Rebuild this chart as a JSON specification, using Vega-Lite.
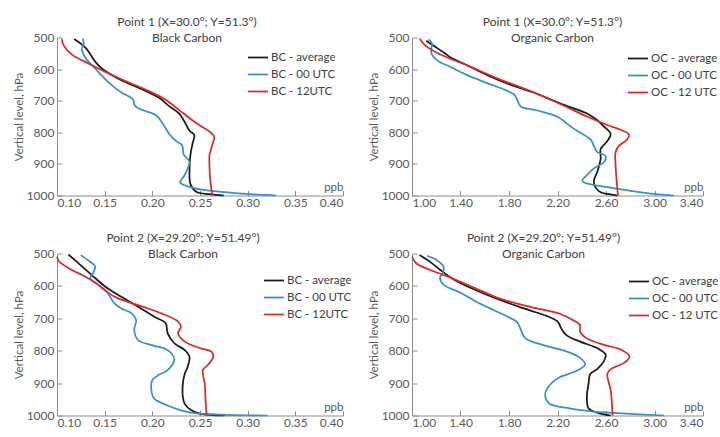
{
  "$schema": "https://vega.github.io/schema/vega-lite/v6.json",
  "background": "white",
  "padding": {"left": 13, "top": 15.5, "right": 0, "bottom": 0},
  "config": {
    "font": "Lato",
    "view": {"stroke": null},
    "axis": {"grid": false, "labelFont": "Lato", "labelFontSize": 12, "labelColor": "#595959", "titleFont": "Lato", "titleFontSize": 11.5, "titleFontWeight": "normal", "titleColor": "#595959", "domainColor": "#8c8c8c", "tickColor": "#8c8c8c", "tickSize": -5, "labelPadding": 8},
    "axisX": {"labelPadding": 7, "titleAlign": "right", "titleBaseline": "bottom", "titleY": -3, "titleX": 286},
    "axisY": {"titlePadding": 2, "format": "d"},
    "legend": {"symbolType": "stroke", "symbolSize": 400, "symbolStrokeWidth": 2, "labelFont": "Lato", "labelFontSize": 11.5, "labelColor": "#404040", "rowPadding": -4, "labelOffset": 2, "padding": 0},
    "title": {"font": "Lato", "fontSize": 12, "fontWeight": "normal", "color": "#404040", "offset": -13, "lineHeight": 16},
    "line": {"strokeWidth": 1.75, "interpolate": "catmull-rom"}
  },
  "resolve": {"scale": {"color": "independent"}, "legend": {"color": "independent"}},
  "datasets": {
    "p1": [
      {"series": "BC - average", "ppb": 0.118, "hPa": 505}, {"series": "BC - average", "ppb": 0.130, "hPa": 533}, {"series": "BC - average", "ppb": 0.140, "hPa": 576}, {"series": "BC - average", "ppb": 0.147, "hPa": 598}, {"series": "BC - average", "ppb": 0.168, "hPa": 636}, {"series": "BC - average", "ppb": 0.189, "hPa": 664}, {"series": "BC - average", "ppb": 0.207, "hPa": 691}, {"series": "BC - average", "ppb": 0.218, "hPa": 718}, {"series": "BC - average", "ppb": 0.228, "hPa": 740}, {"series": "BC - average", "ppb": 0.235, "hPa": 773}, {"series": "BC - average", "ppb": 0.239, "hPa": 795}, {"series": "BC - average", "ppb": 0.244, "hPa": 808}, {"series": "BC - average", "ppb": 0.242, "hPa": 838}, {"series": "BC - average", "ppb": 0.240, "hPa": 871}, {"series": "BC - average", "ppb": 0.239, "hPa": 915}, {"series": "BC - average", "ppb": 0.240, "hPa": 964}, {"series": "BC - average", "ppb": 0.246, "hPa": 988}, {"series": "BC - average", "ppb": 0.260, "hPa": 996}, {"series": "BC - average", "ppb": 0.275, "hPa": 1000},
      {"series": "BC - 00 UTC", "ppb": 0.127, "hPa": 503}, {"series": "BC - 00 UTC", "ppb": 0.128, "hPa": 520}, {"series": "BC - 00 UTC", "ppb": 0.126, "hPa": 535}, {"series": "BC - 00 UTC", "ppb": 0.130, "hPa": 565}, {"series": "BC - 00 UTC", "ppb": 0.140, "hPa": 598}, {"series": "BC - 00 UTC", "ppb": 0.154, "hPa": 642}, {"series": "BC - 00 UTC", "ppb": 0.168, "hPa": 675}, {"series": "BC - 00 UTC", "ppb": 0.175, "hPa": 686}, {"series": "BC - 00 UTC", "ppb": 0.180, "hPa": 697}, {"series": "BC - 00 UTC", "ppb": 0.181, "hPa": 712}, {"series": "BC - 00 UTC", "ppb": 0.184, "hPa": 722}, {"series": "BC - 00 UTC", "ppb": 0.191, "hPa": 731}, {"series": "BC - 00 UTC", "ppb": 0.204, "hPa": 746}, {"series": "BC - 00 UTC", "ppb": 0.211, "hPa": 773}, {"series": "BC - 00 UTC", "ppb": 0.218, "hPa": 806}, {"series": "BC - 00 UTC", "ppb": 0.225, "hPa": 828}, {"series": "BC - 00 UTC", "ppb": 0.231, "hPa": 840}, {"series": "BC - 00 UTC", "ppb": 0.233, "hPa": 871}, {"series": "BC - 00 UTC", "ppb": 0.239, "hPa": 893}, {"series": "BC - 00 UTC", "ppb": 0.237, "hPa": 915}, {"series": "BC - 00 UTC", "ppb": 0.233, "hPa": 940}, {"series": "BC - 00 UTC", "ppb": 0.229, "hPa": 958}, {"series": "BC - 00 UTC", "ppb": 0.233, "hPa": 967}, {"series": "BC - 00 UTC", "ppb": 0.246, "hPa": 978}, {"series": "BC - 00 UTC", "ppb": 0.270, "hPa": 988}, {"series": "BC - 00 UTC", "ppb": 0.298, "hPa": 995}, {"series": "BC - 00 UTC", "ppb": 0.330, "hPa": 1000},
      {"series": "BC - 12UTC", "ppb": 0.105, "hPa": 505}, {"series": "BC - 12UTC", "ppb": 0.107, "hPa": 525}, {"series": "BC - 12UTC", "ppb": 0.116, "hPa": 555}, {"series": "BC - 12UTC", "ppb": 0.133, "hPa": 582}, {"series": "BC - 12UTC", "ppb": 0.151, "hPa": 609}, {"series": "BC - 12UTC", "ppb": 0.175, "hPa": 642}, {"series": "BC - 12UTC", "ppb": 0.196, "hPa": 669}, {"series": "BC - 12UTC", "ppb": 0.214, "hPa": 697}, {"series": "BC - 12UTC", "ppb": 0.228, "hPa": 729}, {"series": "BC - 12UTC", "ppb": 0.242, "hPa": 762}, {"series": "BC - 12UTC", "ppb": 0.253, "hPa": 784}, {"series": "BC - 12UTC", "ppb": 0.261, "hPa": 800}, {"series": "BC - 12UTC", "ppb": 0.265, "hPa": 815}, {"series": "BC - 12UTC", "ppb": 0.263, "hPa": 838}, {"series": "BC - 12UTC", "ppb": 0.261, "hPa": 860}, {"series": "BC - 12UTC", "ppb": 0.260, "hPa": 871}, {"series": "BC - 12UTC", "ppb": 0.260, "hPa": 915}, {"series": "BC - 12UTC", "ppb": 0.261, "hPa": 958}, {"series": "BC - 12UTC", "ppb": 0.263, "hPa": 1000}
    ],
    "p2": [
      {"series": "OC - average", "ppb": 1.118, "hPa": 510}, {"series": "OC - average", "ppb": 1.186, "hPa": 528}, {"series": "OC - average", "ppb": 1.268, "hPa": 549}, {"series": "OC - average", "ppb": 1.323, "hPa": 564}, {"series": "OC - average", "ppb": 1.433, "hPa": 584}, {"series": "OC - average", "ppb": 1.625, "hPa": 620}, {"series": "OC - average", "ppb": 1.816, "hPa": 650}, {"series": "OC - average", "ppb": 2.008, "hPa": 675}, {"series": "OC - average", "ppb": 2.173, "hPa": 701}, {"series": "OC - average", "ppb": 2.31, "hPa": 721}, {"series": "OC - average", "ppb": 2.447, "hPa": 741}, {"series": "OC - average", "ppb": 2.529, "hPa": 762}, {"series": "OC - average", "ppb": 2.584, "hPa": 782}, {"series": "OC - average", "ppb": 2.638, "hPa": 805}, {"series": "OC - average", "ppb": 2.611, "hPa": 828}, {"series": "OC - average", "ppb": 2.556, "hPa": 853}, {"series": "OC - average", "ppb": 2.556, "hPa": 883}, {"series": "OC - average", "ppb": 2.529, "hPa": 924}, {"series": "OC - average", "ppb": 2.50, "hPa": 954}, {"series": "OC - average", "ppb": 2.515, "hPa": 975}, {"series": "OC - average", "ppb": 2.556, "hPa": 990}, {"series": "OC - average", "ppb": 2.611, "hPa": 995}, {"series": "OC - average", "ppb": 2.693, "hPa": 1000},
      {"series": "OC - 00 UTC", "ppb": 1.137, "hPa": 506}, {"series": "OC - 00 UTC", "ppb": 1.164, "hPa": 518}, {"series": "OC - 00 UTC", "ppb": 1.159, "hPa": 549}, {"series": "OC - 00 UTC", "ppb": 1.214, "hPa": 574}, {"series": "OC - 00 UTC", "ppb": 1.323, "hPa": 594}, {"series": "OC - 00 UTC", "ppb": 1.46, "hPa": 620}, {"series": "OC - 00 UTC", "ppb": 1.625, "hPa": 645}, {"series": "OC - 00 UTC", "ppb": 1.762, "hPa": 665}, {"series": "OC - 00 UTC", "ppb": 1.844, "hPa": 681}, {"series": "OC - 00 UTC", "ppb": 1.871, "hPa": 701}, {"series": "OC - 00 UTC", "ppb": 1.90, "hPa": 719}, {"series": "OC - 00 UTC", "ppb": 2.036, "hPa": 731}, {"series": "OC - 00 UTC", "ppb": 2.20, "hPa": 751}, {"series": "OC - 00 UTC", "ppb": 2.31, "hPa": 782}, {"series": "OC - 00 UTC", "ppb": 2.392, "hPa": 802}, {"series": "OC - 00 UTC", "ppb": 2.474, "hPa": 823}, {"series": "OC - 00 UTC", "ppb": 2.50, "hPa": 843}, {"series": "OC - 00 UTC", "ppb": 2.529, "hPa": 863}, {"series": "OC - 00 UTC", "ppb": 2.597, "hPa": 875}, {"series": "OC - 00 UTC", "ppb": 2.584, "hPa": 894}, {"series": "OC - 00 UTC", "ppb": 2.50, "hPa": 914}, {"series": "OC - 00 UTC", "ppb": 2.447, "hPa": 934}, {"series": "OC - 00 UTC", "ppb": 2.405, "hPa": 954}, {"series": "OC - 00 UTC", "ppb": 2.474, "hPa": 965}, {"series": "OC - 00 UTC", "ppb": 2.638, "hPa": 975}, {"series": "OC - 00 UTC", "ppb": 2.803, "hPa": 985}, {"series": "OC - 00 UTC", "ppb": 2.995, "hPa": 995}, {"series": "OC - 00 UTC", "ppb": 3.159, "hPa": 1000},
      {"series": "OC - 12 UTC", "ppb": 1.063, "hPa": 503}, {"series": "OC - 12 UTC", "ppb": 1.104, "hPa": 523}, {"series": "OC - 12 UTC", "ppb": 1.186, "hPa": 544}, {"series": "OC - 12 UTC", "ppb": 1.296, "hPa": 564}, {"series": "OC - 12 UTC", "ppb": 1.46, "hPa": 589}, {"series": "OC - 12 UTC", "ppb": 1.707, "hPa": 630}, {"series": "OC - 12 UTC", "ppb": 1.981, "hPa": 670}, {"series": "OC - 12 UTC", "ppb": 2.227, "hPa": 711}, {"series": "OC - 12 UTC", "ppb": 2.447, "hPa": 751}, {"series": "OC - 12 UTC", "ppb": 2.611, "hPa": 777}, {"series": "OC - 12 UTC", "ppb": 2.721, "hPa": 792}, {"series": "OC - 12 UTC", "ppb": 2.789, "hPa": 807}, {"series": "OC - 12 UTC", "ppb": 2.775, "hPa": 823}, {"series": "OC - 12 UTC", "ppb": 2.707, "hPa": 843}, {"series": "OC - 12 UTC", "ppb": 2.679, "hPa": 863}, {"series": "OC - 12 UTC", "ppb": 2.679, "hPa": 904}, {"series": "OC - 12 UTC", "ppb": 2.688, "hPa": 954}, {"series": "OC - 12 UTC", "ppb": 2.699, "hPa": 1000}
    ],
    "p3": [
      {"series": "BC - average", "ppb": 0.112, "hPa": 503}, {"series": "BC - average", "ppb": 0.122, "hPa": 529}, {"series": "BC - average", "ppb": 0.136, "hPa": 565}, {"series": "BC - average", "ppb": 0.150, "hPa": 601}, {"series": "BC - average", "ppb": 0.167, "hPa": 633}, {"series": "BC - average", "ppb": 0.185, "hPa": 664}, {"series": "BC - average", "ppb": 0.202, "hPa": 695}, {"series": "BC - average", "ppb": 0.214, "hPa": 715}, {"series": "BC - average", "ppb": 0.216, "hPa": 746}, {"series": "BC - average", "ppb": 0.223, "hPa": 777}, {"series": "BC - average", "ppb": 0.234, "hPa": 798}, {"series": "BC - average", "ppb": 0.239, "hPa": 819}, {"series": "BC - average", "ppb": 0.237, "hPa": 850}, {"series": "BC - average", "ppb": 0.234, "hPa": 871}, {"series": "BC - average", "ppb": 0.232, "hPa": 902}, {"series": "BC - average", "ppb": 0.232, "hPa": 943}, {"series": "BC - average", "ppb": 0.234, "hPa": 964}, {"series": "BC - average", "ppb": 0.241, "hPa": 984}, {"series": "BC - average", "ppb": 0.251, "hPa": 995}, {"series": "BC - average", "ppb": 0.276, "hPa": 1000},
      {"series": "BC - 00 UTC", "ppb": 0.125, "hPa": 505}, {"series": "BC - 00 UTC", "ppb": 0.134, "hPa": 524}, {"series": "BC - 00 UTC", "ppb": 0.140, "hPa": 539}, {"series": "BC - 00 UTC", "ppb": 0.138, "hPa": 560}, {"series": "BC - 00 UTC", "ppb": 0.135, "hPa": 576}, {"series": "BC - 00 UTC", "ppb": 0.143, "hPa": 596}, {"series": "BC - 00 UTC", "ppb": 0.153, "hPa": 622}, {"series": "BC - 00 UTC", "ppb": 0.160, "hPa": 653}, {"series": "BC - 00 UTC", "ppb": 0.167, "hPa": 669}, {"series": "BC - 00 UTC", "ppb": 0.178, "hPa": 684}, {"series": "BC - 00 UTC", "ppb": 0.183, "hPa": 705}, {"series": "BC - 00 UTC", "ppb": 0.181, "hPa": 736}, {"series": "BC - 00 UTC", "ppb": 0.185, "hPa": 767}, {"series": "BC - 00 UTC", "ppb": 0.199, "hPa": 783}, {"series": "BC - 00 UTC", "ppb": 0.213, "hPa": 793}, {"series": "BC - 00 UTC", "ppb": 0.220, "hPa": 808}, {"series": "BC - 00 UTC", "ppb": 0.223, "hPa": 829}, {"series": "BC - 00 UTC", "ppb": 0.216, "hPa": 860}, {"series": "BC - 00 UTC", "ppb": 0.206, "hPa": 876}, {"series": "BC - 00 UTC", "ppb": 0.200, "hPa": 891}, {"series": "BC - 00 UTC", "ppb": 0.199, "hPa": 922}, {"series": "BC - 00 UTC", "ppb": 0.202, "hPa": 948}, {"series": "BC - 00 UTC", "ppb": 0.216, "hPa": 969}, {"series": "BC - 00 UTC", "ppb": 0.230, "hPa": 984}, {"series": "BC - 00 UTC", "ppb": 0.244, "hPa": 993}, {"series": "BC - 00 UTC", "ppb": 0.279, "hPa": 998}, {"series": "BC - 00 UTC", "ppb": 0.321, "hPa": 1000},
      {"series": "BC - 12UTC", "ppb": 0.100, "hPa": 510}, {"series": "BC - 12UTC", "ppb": 0.102, "hPa": 524}, {"series": "BC - 12UTC", "ppb": 0.115, "hPa": 550}, {"series": "BC - 12UTC", "ppb": 0.129, "hPa": 570}, {"series": "BC - 12UTC", "ppb": 0.143, "hPa": 596}, {"series": "BC - 12UTC", "ppb": 0.160, "hPa": 633}, {"series": "BC - 12UTC", "ppb": 0.178, "hPa": 653}, {"series": "BC - 12UTC", "ppb": 0.195, "hPa": 669}, {"series": "BC - 12UTC", "ppb": 0.213, "hPa": 689}, {"series": "BC - 12UTC", "ppb": 0.227, "hPa": 710}, {"series": "BC - 12UTC", "ppb": 0.230, "hPa": 726}, {"series": "BC - 12UTC", "ppb": 0.227, "hPa": 746}, {"series": "BC - 12UTC", "ppb": 0.234, "hPa": 772}, {"series": "BC - 12UTC", "ppb": 0.251, "hPa": 793}, {"series": "BC - 12UTC", "ppb": 0.262, "hPa": 803}, {"series": "BC - 12UTC", "ppb": 0.264, "hPa": 819}, {"series": "BC - 12UTC", "ppb": 0.258, "hPa": 845}, {"series": "BC - 12UTC", "ppb": 0.253, "hPa": 860}, {"series": "BC - 12UTC", "ppb": 0.255, "hPa": 902}, {"series": "BC - 12UTC", "ppb": 0.256, "hPa": 964}, {"series": "BC - 12UTC", "ppb": 0.257, "hPa": 1000}
    ],
    "p4": [
      {"series": "OC - average", "ppb": 1.062, "hPa": 505}, {"series": "OC - average", "ppb": 1.146, "hPa": 525}, {"series": "OC - average", "ppb": 1.231, "hPa": 550}, {"series": "OC - average", "ppb": 1.344, "hPa": 580}, {"series": "OC - average", "ppb": 1.513, "hPa": 611}, {"series": "OC - average", "ppb": 1.71, "hPa": 641}, {"series": "OC - average", "ppb": 1.935, "hPa": 671}, {"series": "OC - average", "ppb": 2.132, "hPa": 696}, {"series": "OC - average", "ppb": 2.203, "hPa": 711}, {"series": "OC - average", "ppb": 2.231, "hPa": 731}, {"series": "OC - average", "ppb": 2.273, "hPa": 752}, {"series": "OC - average", "ppb": 2.386, "hPa": 772}, {"series": "OC - average", "ppb": 2.527, "hPa": 792}, {"series": "OC - average", "ppb": 2.597, "hPa": 812}, {"series": "OC - average", "ppb": 2.583, "hPa": 832}, {"series": "OC - average", "ppb": 2.527, "hPa": 857}, {"series": "OC - average", "ppb": 2.47, "hPa": 872}, {"series": "OC - average", "ppb": 2.456, "hPa": 902}, {"series": "OC - average", "ppb": 2.442, "hPa": 943}, {"series": "OC - average", "ppb": 2.456, "hPa": 978}, {"series": "OC - average", "ppb": 2.527, "hPa": 991}, {"series": "OC - average", "ppb": 2.639, "hPa": 1000},
      {"series": "OC - 00 UTC", "ppb": 1.124, "hPa": 507}, {"series": "OC - 00 UTC", "ppb": 1.203, "hPa": 520}, {"series": "OC - 00 UTC", "ppb": 1.259, "hPa": 540}, {"series": "OC - 00 UTC", "ppb": 1.259, "hPa": 555}, {"series": "OC - 00 UTC", "ppb": 1.231, "hPa": 575}, {"series": "OC - 00 UTC", "ppb": 1.259, "hPa": 596}, {"series": "OC - 00 UTC", "ppb": 1.40, "hPa": 621}, {"series": "OC - 00 UTC", "ppb": 1.541, "hPa": 651}, {"series": "OC - 00 UTC", "ppb": 1.682, "hPa": 676}, {"series": "OC - 00 UTC", "ppb": 1.794, "hPa": 696}, {"series": "OC - 00 UTC", "ppb": 1.865, "hPa": 711}, {"series": "OC - 00 UTC", "ppb": 1.893, "hPa": 731}, {"series": "OC - 00 UTC", "ppb": 1.935, "hPa": 762}, {"series": "OC - 00 UTC", "ppb": 2.076, "hPa": 782}, {"series": "OC - 00 UTC", "ppb": 2.273, "hPa": 802}, {"series": "OC - 00 UTC", "ppb": 2.386, "hPa": 822}, {"series": "OC - 00 UTC", "ppb": 2.428, "hPa": 842}, {"series": "OC - 00 UTC", "ppb": 2.358, "hPa": 862}, {"series": "OC - 00 UTC", "ppb": 2.217, "hPa": 882}, {"series": "OC - 00 UTC", "ppb": 2.146, "hPa": 902}, {"series": "OC - 00 UTC", "ppb": 2.099, "hPa": 932}, {"series": "OC - 00 UTC", "ppb": 2.132, "hPa": 963}, {"series": "OC - 00 UTC", "ppb": 2.301, "hPa": 978}, {"series": "OC - 00 UTC", "ppb": 2.499, "hPa": 988}, {"series": "OC - 00 UTC", "ppb": 2.80, "hPa": 995}, {"series": "OC - 00 UTC", "ppb": 3.08, "hPa": 1000},
      {"series": "OC - 12 UTC", "ppb": 1.000, "hPa": 510}, {"series": "OC - 12 UTC", "ppb": 1.034, "hPa": 530}, {"series": "OC - 12 UTC", "ppb": 1.146, "hPa": 550}, {"series": "OC - 12 UTC", "ppb": 1.287, "hPa": 570}, {"series": "OC - 12 UTC", "ppb": 1.485, "hPa": 601}, {"series": "OC - 12 UTC", "ppb": 1.738, "hPa": 641}, {"series": "OC - 12 UTC", "ppb": 1.992, "hPa": 666}, {"series": "OC - 12 UTC", "ppb": 2.217, "hPa": 686}, {"series": "OC - 12 UTC", "ppb": 2.33, "hPa": 706}, {"series": "OC - 12 UTC", "ppb": 2.386, "hPa": 721}, {"series": "OC - 12 UTC", "ppb": 2.386, "hPa": 741}, {"series": "OC - 12 UTC", "ppb": 2.442, "hPa": 762}, {"series": "OC - 12 UTC", "ppb": 2.583, "hPa": 782}, {"series": "OC - 12 UTC", "ppb": 2.724, "hPa": 797}, {"series": "OC - 12 UTC", "ppb": 2.794, "hPa": 817}, {"series": "OC - 12 UTC", "ppb": 2.752, "hPa": 837}, {"series": "OC - 12 UTC", "ppb": 2.639, "hPa": 857}, {"series": "OC - 12 UTC", "ppb": 2.611, "hPa": 872}, {"series": "OC - 12 UTC", "ppb": 2.639, "hPa": 923}, {"series": "OC - 12 UTC", "ppb": 2.654, "hPa": 1000}
    ]
  },
  "columns": 2,
  "bounds": "flush",
  "align": "each",
  "spacing": {"column": 69, "row": 58},
  "concat": [
    {
      "width": 286, "height": 158,
      "data": {"name": "p1"},
      "title": {"text": ["Point 1 (X=30.0°; Y=51.3°)", "Black Carbon"], "dx": -13},
      "mark": {"type": "line"},
      "encoding": {
        "x": {"field": "ppb", "type": "quantitative", "scale": {"domain": [0.1, 0.4], "nice": false, "zero": false}, "axis": {"values": [0.1, 0.15, 0.2, 0.25, 0.3, 0.35, 0.4], "format": ".2f", "title": "ppb"}},
        "y": {"field": "hPa", "type": "quantitative", "scale": {"domain": [500, 1000], "reverse": true, "nice": false, "zero": false}, "axis": {"values": [500, 600, 700, 800, 900, 1000], "title": "Vertical level, hPa"}},
        "color": {"field": "series", "type": "nominal", "scale": {"domain": ["BC - average", "BC - 00 UTC", "BC - 12UTC"], "range": ["#1a1a1a", "#3a8fc8", "#d42b2b"]}, "legend": {"title": null, "orient": "none", "legendX": 190, "legendY": 9}},
        "order": {"field": "hPa", "type": "quantitative"}
      }
    },
    {
      "width": 291, "height": 158,
      "data": {"name": "p2"},
      "title": {"text": ["Point 1 (X=30.0°; Y=51.3°)", "Organic Carbon"], "dx": -5},
      "mark": {"type": "line"},
      "encoding": {
        "x": {"field": "ppb", "type": "quantitative", "scale": {"domain": [1.0, 3.4], "nice": false, "zero": false}, "axis": {"values": [1.0, 1.4, 1.8, 2.2, 2.6, 3.0, 3.4], "format": ".2f", "title": "ppb", "titleX": 291}},
        "y": {"field": "hPa", "type": "quantitative", "scale": {"domain": [500, 1000], "reverse": true, "nice": false, "zero": false}, "axis": {"values": [500, 600, 700, 800, 900, 1000], "title": "Vertical level, hPa"}},
        "color": {"field": "series", "type": "nominal", "scale": {"domain": ["OC - average", "OC - 00 UTC", "OC - 12 UTC"], "range": ["#1a1a1a", "#3a8fc8", "#d42b2b"]}, "legend": {"title": null, "orient": "none", "legendX": 215, "legendY": 10}},
        "order": {"field": "hPa", "type": "quantitative"}
      }
    },
    {
      "width": 286, "height": 162,
      "data": {"name": "p3"},
      "title": {"text": ["Point 2 (X=29.20°; Y=51.49°)", "Black Carbon"], "dx": -17},
      "mark": {"type": "line"},
      "encoding": {
        "x": {"field": "ppb", "type": "quantitative", "scale": {"domain": [0.1, 0.4], "nice": false, "zero": false}, "axis": {"values": [0.1, 0.15, 0.2, 0.25, 0.3, 0.35, 0.4], "format": ".2f", "title": "ppb"}},
        "y": {"field": "hPa", "type": "quantitative", "scale": {"domain": [500, 1000], "reverse": true, "nice": false, "zero": false}, "axis": {"values": [500, 600, 700, 800, 900, 1000], "title": "Vertical level, hPa"}},
        "color": {"field": "series", "type": "nominal", "scale": {"domain": ["BC - average", "BC - 00 UTC", "BC - 12UTC"], "range": ["#1a1a1a", "#3a8fc8", "#d42b2b"]}, "legend": {"title": null, "orient": "none", "legendX": 206, "legendY": 16}},
        "order": {"field": "hPa", "type": "quantitative"}
      }
    },
    {
      "width": 291, "height": 162,
      "data": {"name": "p4"},
      "title": {"text": ["Point 2 (X=29.20°; Y=51.49°)", "Organic Carbon"], "dx": -14},
      "mark": {"type": "line"},
      "encoding": {
        "x": {"field": "ppb", "type": "quantitative", "scale": {"domain": [1.0, 3.4], "nice": false, "zero": false}, "axis": {"values": [1.0, 1.4, 1.8, 2.2, 2.6, 3.0, 3.4], "format": ".2f", "title": "ppb", "titleX": 291}},
        "y": {"field": "hPa", "type": "quantitative", "scale": {"domain": [500, 1000], "reverse": true, "nice": false, "zero": false}, "axis": {"values": [500, 600, 700, 800, 900, 1000], "title": "Vertical level, hPa"}},
        "color": {"field": "series", "type": "nominal", "scale": {"domain": ["OC - average", "OC - 00 UTC", "OC - 12 UTC"], "range": ["#1a1a1a", "#3a8fc8", "#d42b2b"]}, "legend": {"title": null, "orient": "none", "legendX": 216, "legendY": 17}},
        "order": {"field": "hPa", "type": "quantitative"}
      }
    }
  ]
}
